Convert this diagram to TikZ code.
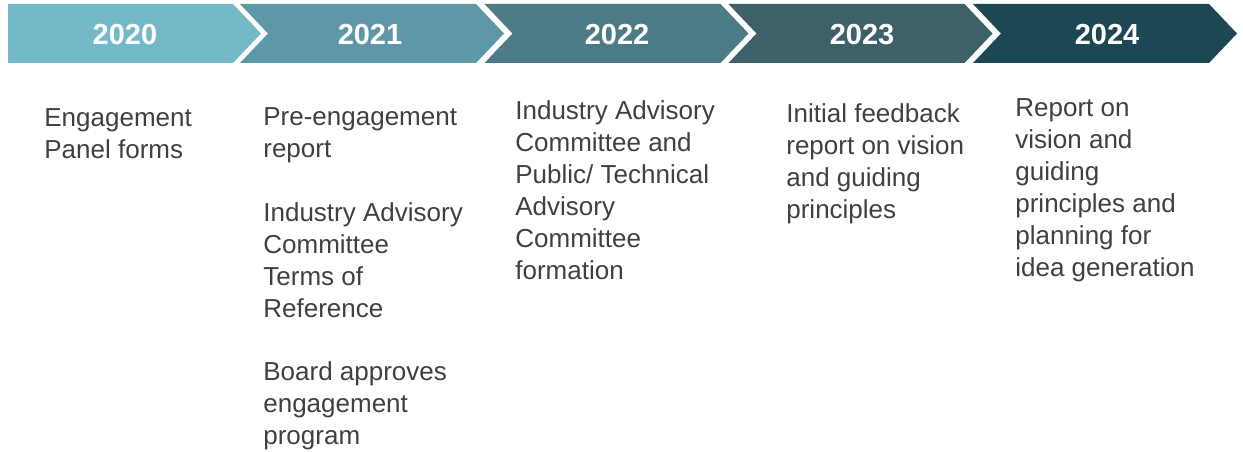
\documentclass[tikz,border=0pt]{standalone}
\usepackage{fontspec}
\setmainfont{Liberation Sans}
\usepackage{xcolor}
\usepackage{tikz}
\definecolor{tono1}{HTML}{75B9C8}
\definecolor{tono2}{HTML}{5E97A5}
\definecolor{tono3}{HTML}{4C7A85}
\definecolor{tono4}{HTML}{3D6069}
\definecolor{tono5}{HTML}{1E4754}
\definecolor{gris}{HTML}{404040}

\begin{document}
\begin{tikzpicture}[font=\fontsize{14.8}{18.14}\selectfont,
  anio/.style={font=\fontsize{16.5}{19}\selectfont\bfseries, text=white, inner sep=0pt},
  texto/.style={anchor=north west, align=left, inner sep=0pt, text=gris}]
  \useasboundingbox (0,0) rectangle (24.86,-9.04);
  % barra de flechas
  \fill[tono1] (0.16,-0.08) -- (4.66,-0.08) -- (5.22,-0.67) -- (4.66,-1.26) -- (0.16,-1.26) -- cycle;
  \fill[tono2] (4.80,-0.08) -- (9.52,-0.08) -- (10.08,-0.67) -- (9.52,-1.26) -- (4.80,-1.26) -- (5.36,-0.67) -- cycle;
  \fill[tono3] (9.69,-0.08) -- (14.41,-0.08) -- (14.97,-0.67) -- (14.41,-1.26) -- (9.69,-1.26) -- (10.25,-0.67) -- cycle;
  \fill[tono4] (14.57,-0.08) -- (19.29,-0.08) -- (19.85,-0.67) -- (19.29,-1.26) -- (14.57,-1.26) -- (15.13,-0.67) -- cycle;
  \fill[tono5] (19.46,-0.08) -- (24.18,-0.08) -- (24.74,-0.67) -- (24.18,-1.26) -- (19.46,-1.26) -- (20.02,-0.67) -- cycle;
  \node[anio] (a2020) at (2.50,-0.69) {2020};
  \node[anio] (a2021) at (7.40,-0.69) {2021};
  \node[anio] (a2022) at (12.34,-0.69) {2022};
  \node[anio] (a2023) at (17.24,-0.69) {2023};
  \node[anio] (a2024) at (22.14,-0.69) {2024};
  % hitos de cada anio
  \node[texto] (t2020) at (0.88,-2.17) {Engagement\\Panel forms};
  \node[texto] (t2021) at (5.26,-2.15) {Pre-engagement\\report\\[18.14pt]
    Industry Advisory\\Committee\\Terms of\\Reference\\[18.14pt]
    Board approves\\engagement\\program};
  \node[texto] (t2022) at (10.30,-2.01) {Industry Advisory\\Committee and\\Public/ Technical\\Advisory\\Committee\\formation};
  \node[texto] (t2023) at (15.72,-2.07) {Initial feedback\\report on vision\\and guiding\\principles};
  \node[texto] (t2024) at (20.30,-1.97) {Report on\\vision and\\guiding\\principles and\\planning for\\idea generation};
\end{tikzpicture}
\end{document}
